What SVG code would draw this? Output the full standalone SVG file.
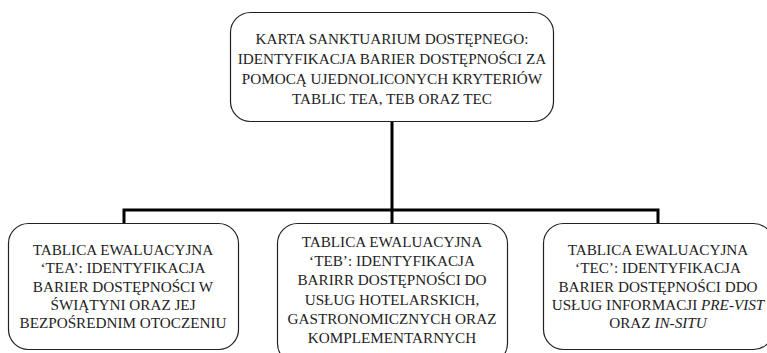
<svg xmlns="http://www.w3.org/2000/svg" width="767" height="353" viewBox="0 0 767 353">
<style>
.box{fill:#fff;stroke:#222;stroke-width:1.2}
.t{font-family:"Liberation Serif","Times New Roman",serif;font-size:15.2px;fill:#222;text-anchor:middle}
.c{fill:none;stroke:#000;stroke-width:3}
</style>
<rect width="767" height="353" fill="#fff"/>
<g id="connectors">
<path class="c" d="M392 122 V210 M124 223 V210 H658 V223 M392 210 V223"/>
</g>
<g id="top">
<rect class="box" x="230.5" y="12.5" width="323" height="109" rx="20"/>
<text class="t" x="392" y="43.5">KARTA SANKTUARIUM DOSTĘPNEGO:</text>
<text class="t" x="392" y="63.5">IDENTYFIKACJA BARIER DOSTĘPNOŚCI ZA</text>
<text class="t" x="392" y="83.5">POMOCĄ UJEDNOLICONYCH KRYTERIÓW</text>
<text class="t" x="392" y="103.5">TABLIC TEA, TEB ORAZ TEC</text>
</g>
<g id="tea">
<rect class="box" x="8.5" y="223.5" width="230" height="126" rx="20"/>
<text class="t" x="123" y="255">TABLICA EWALUACYJNA</text>
<text class="t" x="123" y="273.3">‘TEA’: IDENTYFIKACJA</text>
<text class="t" x="123" y="291.6">BARIER DOSTĘPNOŚCI W</text>
<text class="t" x="123" y="309.9">ŚWIĄTYNI ORAZ JEJ</text>
<text class="t" x="123" y="328.2">BEZPOŚREDNIM OTOCZENIU</text>
</g>
<g id="teb">
<rect class="box" x="277.5" y="223.5" width="230" height="140" rx="20"/>
<text class="t" x="392" y="247">TABLICA EWALUACYJNA</text>
<text class="t" x="392" y="266.2">‘TEB’: IDENTYFIKACJA</text>
<text class="t" x="392" y="285.4">BARIRR DOSTĘPNOŚCI DO</text>
<text class="t" x="392" y="304.6">USŁUG HOTELARSKICH,</text>
<text class="t" x="392" y="323.8">GASTRONOMICZNYCH ORAZ</text>
<text class="t" x="392" y="343">KOMPLEMENTARNYCH</text>
</g>
<g id="tec">
<rect class="box" x="543.5" y="223.5" width="230" height="126" rx="20"/>
<text class="t" x="658" y="255">TABLICA EWALUACYJNA</text>
<text class="t" x="658" y="273.3">‘TEC’: IDENTYFIKACJA</text>
<text class="t" x="658" y="291.6">BARIER DOSTĘPNOŚCI DDO</text>
<text class="t" x="658" y="309.9">USŁUG INFORMACJI <tspan font-style="italic">PRE-VIST</tspan></text>
<text class="t" x="658" y="328.2">ORAZ <tspan font-style="italic">IN-SITU</tspan></text>
</g>
</svg>
